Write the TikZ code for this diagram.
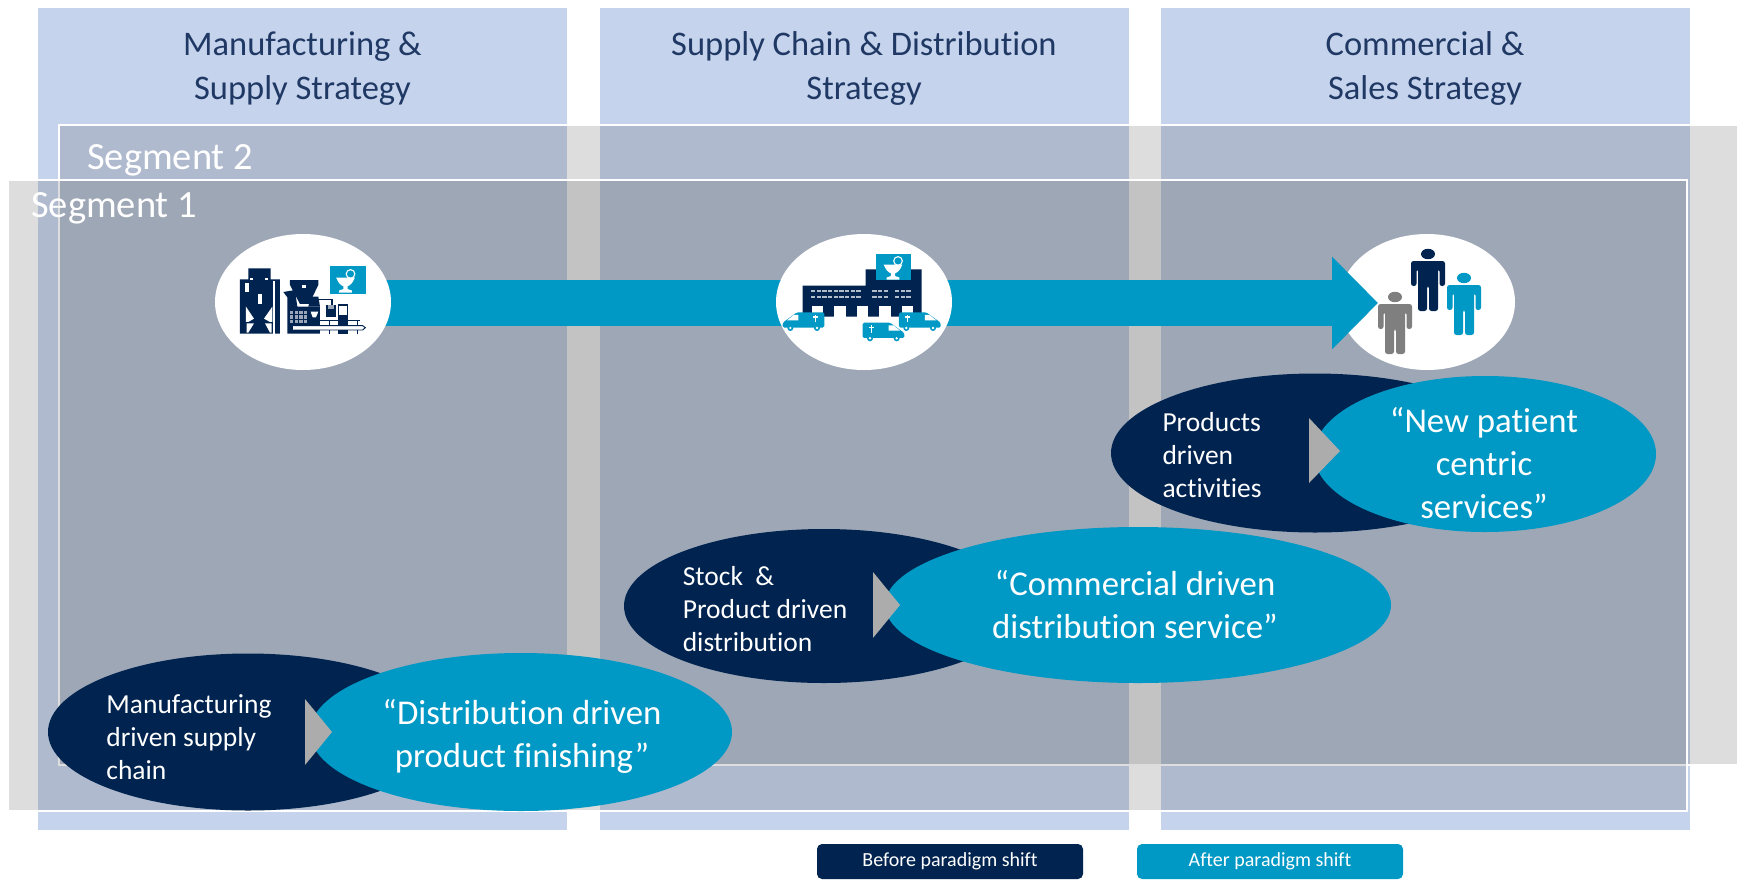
\documentclass[tikz,border=0pt]{standalone}
\usepackage{fontspec}
\setmainfont{Carlito}[Ligatures={NoCommon}]
\usetikzlibrary{shapes.geometric,arrows.meta}
\pgfdeclarelayer{front}
\pgfsetlayers{main,front}
\definecolor{colfill}{HTML}{C5D3EC}
\definecolor{segfill}{RGB}{103,103,103}
\definecolor{navy}{HTML}{00234F}
\definecolor{teal}{HTML}{0098C4}
\definecolor{headtxt}{HTML}{1F3864}
\definecolor{tri}{HTML}{ACACAC}
\definecolor{pgray}{HTML}{7F7F7F}
\tikzset{
  colbox/.style={fill=colfill},
  segfillstyle/.style={fill=segfill,fill opacity=.224},
  segline/.style={draw=white,line width=2pt},
  head/.style={text=headtxt,align=center,inner sep=0pt,font=\fontsize{34.5}{44}\selectfont},
  seglabel/.style={text=white,anchor=base west,inner sep=0pt,font=\fontsize{38.5}{44}\selectfont},
  icon/.style={ellipse,fill=white,inner sep=0pt,minimum width=176pt,minimum height=136pt},
  before/.style={ellipse,fill=navy,inner sep=0pt},
  after/.style={ellipse,fill=teal,inner sep=0pt},
  smalltxt/.style={text=white,align=left,inner sep=0pt,font=\fontsize{27.5}{33}\selectfont},
  bigtxt/.style={text=white,align=center,inner sep=0pt,font=\fontsize{34.8}{43}\selectfont},
  triangleptr/.style={fill=tri},
  legend/.style={rounded corners=5pt,minimum width=266pt,minimum height=35pt,inner sep=0pt,text=white,font=\fontsize{20}{22}\selectfont},
}
\newcommand\caduc[3]{% cx cy scale
  \begin{scope}[shift={(#1,#2)},x=#3pt,y=-#3pt]
    \draw[white,line width=1.1pt,fill=none] (7,-7) circle[radius=6];
    \fill[white] (-13,-2) -- (13,-2) .. controls (10,6) and (6,9) .. (3,10) -- (3,14) -- (9,16) -- (9,19) -- (-9,19) -- (-9,16) -- (-3,14) -- (-3,10) .. controls (-6,9) and (-10,6) .. (-13,-2) -- cycle;
  \end{scope}}
\newcommand\personicon[3]{% x y colour
  \begin{scope}[shift={(#1,#2)}]
    \fill[#3] (0,0) ellipse[x radius=7,y radius=5.2];
    \fill[#3,rounded corners=2.5pt] (-17,7) -- (17,7) -- (17,32) -- (11.5,32) -- (11.5,15) -- (10,15) -- (10,57) -- (1,57) -- (1,32) -- (-1,32) -- (-1,57) -- (-10,57) -- (-10,15) -- (-11.5,15) -- (-11.5,32) -- (-17,32) -- cycle;
  \end{scope}}
\newcommand\vanicon[3]{% x y xscale(dir)
  \begin{scope}[shift={(#1,#2)},xscale=#3]
    \fill[teal,rounded corners=1.5pt] (0,0) -- (82,0) -- (125,31) -- (125,46) -- (0,46) -- cycle;
    \fill[white] (78,8) -- (92,8) -- (112,24) -- (78,24) -- cycle;
    \fill[white] (18,12) -- (34,12) -- (34,16) -- (18,16) -- cycle;
    \fill[white] (24,7) -- (28,7) -- (28,30) -- (24,30) -- cycle;
    \fill[teal] (22,47) circle[radius=9];
    \fill[white] (22,47) circle[radius=4];
    \fill[teal] (102,47) circle[radius=9];
    \fill[white] (102,47) circle[radius=4];
  \end{scope}}
\begin{document}
\begin{tikzpicture}[x=1pt,y=-1pt]
\useasboundingbox (0,0) rectangle (1737,879);
% columns
\fill[colbox] (38,8) rectangle (567,830);
\fill[colbox] (600,8) rectangle (1129,830);
\fill[colbox] (1161,8) rectangle (1690,830);
\node[head] (h1) at (302.5,68.5) {Manufacturing \&\\Supply Strategy};
\node[head] (h2) at (864,68.5) {Supply Chain \& Distribution\\Strategy};
\node[head] (h3) at (1425,68.5) {Commercial \&\\Sales Strategy};
% segments
\path[segfillstyle] (59,125) rectangle (1737,765);
\draw[segline] (1737,125) -- (59,125) -- (59,765) -- (1737,765);
\path[segfillstyle] (8,180) rectangle (1687,811);
\draw[segline] (8,180) rectangle (1687,811);
\node[seglabel] (s2) at (87,169) {Segment 2};
\node[seglabel] (s1) at (31,217) {Segment 1};
% icon ellipses
\node[icon] (e3) at (1427,302) {};
\begin{pgfonlayer}{front}
\node[icon] (e1) at (303,302) {};
\node[icon] (e2) at (864,302) {};
\end{pgfonlayer}
\coordinate (tip) at (1378,303);
\draw[teal,line width=46pt,-{Triangle[length=46pt,width=90pt]}] (e1.center |- tip) -- (tip);
\personicon{1428}{254}{navy}
\personicon{1464}{278}{teal}
\personicon{1395}{297}{pgray}
\begin{pgfonlayer}{front}
% factory icon
\begin{scope}[shift={(180,210)},x=.3333pt,y=-.3333pt]
  \fill[navy] (180,208) -- (205,208) -- (205,175) -- (272,175) -- (272,208) -- (300,208) -- (300,371) -- (180,371) -- cycle;
  \fill[white] (278,212) rectangle (284,371);
  \fill[white] (198,290) -- (222,326) -- (205,336) -- (198,336) -- cycle;
  \fill[white] (277,290) -- (252,326) -- (270,336) -- (277,336) -- cycle;
  \fill[white] (200,340) -- (222,340) -- (205,368) -- (200,368) -- cycle;
  \fill[white] (275,340) -- (255,340) -- (270,368) -- (275,368) -- cycle;
  \fill[white] (233,252) rectangle (245,282);
  \fill[white] (196,220) rectangle (207,246);
  \fill[white] (210,205) rectangle (220,211);
  \fill[white] (254,205) rectangle (264,211);
  \fill[navy] (330,210) -- (415,210) -- (415,225) -- (387,282) -- (360,282) -- (330,225) -- cycle;
  \fill[white] (365,224) rectangle (378,233);
  \fill[navy] (310,246) -- (345,240) -- (352,290) -- (420,290) -- (420,371) -- (322,371) -- (322,262) -- cycle;
  \fill[navy] (392,260) -- (415,260) -- (420,290) -- (385,290) -- cycle;
  \foreach \gx in {330,344,358,372}{\foreach \gy in {302,316,330}{\fill[white!60!navy] (\gx,\gy) rectangle +(10,10);}}
  \fill[white] (392,305) -- (415,305) -- (408,322) -- (398,322) -- cycle;
  \draw[navy,line width=1.6pt] (415,268) -- (456,268) -- (456,285);
  \fill[navy] (437,285) rectangle (468,320);
  \fill[white!60!navy] (443,285) rectangle (462,298);
  \draw[navy,line width=1.2pt] (475,285) rectangle (503,318);
  \fill[navy] (475,318) rectangle (503,371);
  \draw[navy,line width=1.2pt] (420,332) -- (540,332);
  \foreach \lx in {447,500,530}{\fill[navy] (\lx,332) rectangle +(4,39);}
  \fill[white] (340,348) rectangle (555,360);
  \draw[navy,line width=.9pt] (340,347) -- (548,347) -- (556,353) -- (548,360) -- (340,360);
  \fill[teal] (449,168) rectangle (558,253);
\end{scope}
\caduc{345.5}{279}{.72}
% distribution icon
\begin{scope}[shift={(750,210)},x=.3333pt,y=-.3333pt]
  \fill[navy] (158,227) -- (347,227) -- (347,178) -- (515,178) -- (515,320) -- (158,320) -- cycle;
  \foreach \dx in {185,253,320,388,455}{\fill[white] (\dx,287) rectangle +(35,33);}
  \foreach \wy in {243,260}{
    \foreach \wx in {183,200,217,234,251,268,285,302,319}{\fill[white!70!navy] (\wx,\wy-3) rectangle +(13,6);}
    \foreach \wx in {367,384,401,435,452,469}{\fill[white!70!navy] (\wx,\wy-3) rectangle +(13,6);}
  }
  \fill[teal] (378,132) rectangle (483,210);
  \vanicon{223}{307}{-1}
  \vanicon{447}{307}{1}
  \vanicon{338}{338}{1}
\end{scope}
\caduc{893}{266}{.72}
\end{pgfonlayer}
% before / after groups
\node[before,minimum width=400pt,minimum height=157pt] (b1) at (248,732) {};
\node[after,minimum width=422pt,minimum height=158pt] (a1) at (521,732) {};
\coordinate (t1) at (332,732);
\fill[triangleptr] (t1) -- ++(-27,-33) -- ++(0,66) -- cycle;
\node[smalltxt] (bt1) at (189,737) {Manufacturing\\driven supply\\chain};
\node[bigtxt] (at1) at (522,736) {“Distribution driven\\product finishing”};
\node[before,minimum width=400pt,minimum height=154pt] (b2) at (824,606) {};
\node[after,minimum width=506pt,minimum height=156pt] (a2) at (1138,605) {};
\coordinate (t2) at (900,605);
\fill[triangleptr] (t2) -- ++(-27,-33) -- ++(0,66) -- cycle;
\node[smalltxt] (bt2) at (765,609) {Stock\ \ \&\\Product driven\\distribution};
\node[bigtxt] (at2) at (1135,605) {“Commercial driven\\distribution service”};
\node[before,minimum width=408pt,minimum height=159pt] (b3) at (1315,453) {};
\node[after,minimum width=342pt,minimum height=156pt] (a3) at (1485,454) {};
\coordinate (t3) at (1340,451);
\fill[triangleptr] (t3) -- ++(-31,-33) -- ++(0,65) -- cycle;
\node[smalltxt] (bt3) at (1212,455) {Products\\driven\\activities};
\node[bigtxt] (at3) at (1484,463) {“New patient\\centric\\services”};
% legend
\node[legend,fill=navy] (l1) at (950,861.5) {\raisebox{-1pt}{Before paradigm shift}};
\node[legend,fill=teal] (l2) at (1270,861.5) {\raisebox{-1pt}{After paradigm shift}};
\end{tikzpicture}
\end{document}
